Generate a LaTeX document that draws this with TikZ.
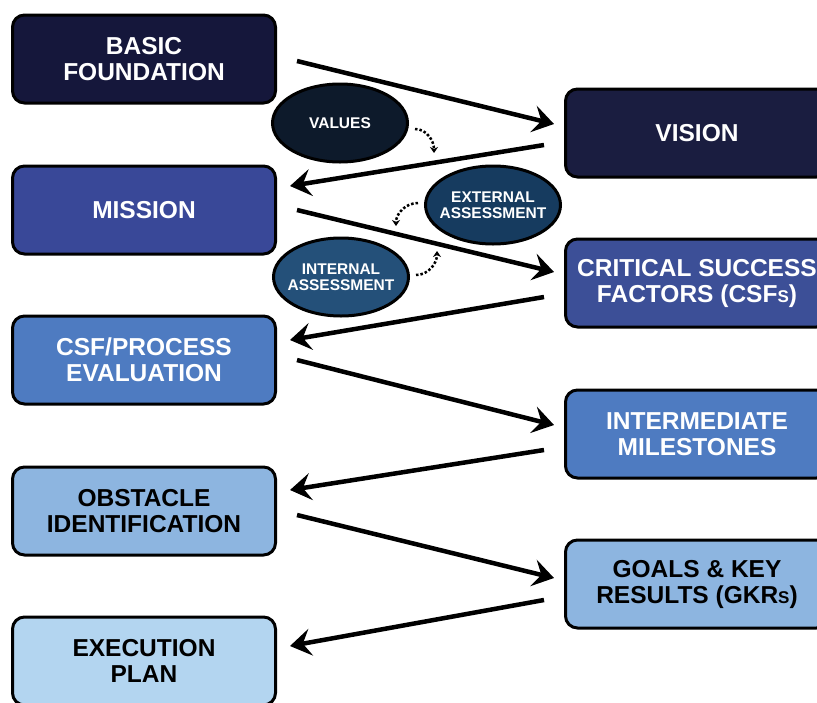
\documentclass[tikz,border=0pt]{standalone}
\usepackage{fontspec}
\setmainfont{Liberation Sans}
\usetikzlibrary{arrows.meta,shapes.geometric}

\definecolor{navyA}{HTML}{15173B}
\definecolor{navyB}{HTML}{1A1D40}
\definecolor{blueA}{HTML}{394898}
\definecolor{blueB}{HTML}{3C4F97}
\definecolor{blueC}{HTML}{4E7BC1}
\definecolor{blueD}{HTML}{8DB5E0}
\definecolor{blueE}{HTML}{B3D5F0}
\definecolor{valcol}{HTML}{0D1A2B}
\definecolor{extcol}{HTML}{163B5F}
\definecolor{intcol}{HTML}{245079}

\newcommand{\smallS}{{\fontsize{17}{26}\selectfont S}}

\begin{document}
\begin{tikzpicture}[x=1pt,y=-1pt,
    stage/.style={draw=black,line width=3pt,rounded corners=12pt,
      minimum width=263pt,minimum height=88pt,align=center,text=white,
      font=\fontsize{24.5}{26}\selectfont\bfseries},
    aspect/.style={ellipse,draw=black,line width=3pt,minimum width=135pt,
      minimum height=78pt,inner xsep=-8pt,align=center,text=white,
      font=\fontsize{15.5}{16.5}\selectfont\bfseries},
    flow/.style={-{Stealth[length=21pt,width=27pt,inset=8pt]},line width=4.5pt},
    hint/.style={-{Stealth[length=6pt,width=8pt]},line width=2.5pt,dotted}]
  \useasboundingbox (0,0) rectangle (817,702);
  \clip (0,0) rectangle (817,702);

  % left column
  \node[stage,fill=navyA] (basic) at (144,59) {BASIC\\FOUNDATION};
  \node[stage,fill=blueA] (mission) at (144,210) {MISSION};
  \node[stage,fill=blueC] (process) at (144,360) {CSF/PROCESS\\EVALUATION};
  \node[stage,fill=blueD,text=black] (obstacle) at (144,511) {OBSTACLE\\IDENTIFICATION};
  \node[stage,fill=blueE,text=black] (execution) at (144,661) {EXECUTION\\PLAN};

  % right column
  \node[stage,fill=navyB] (vision) at (697,133) {VISION};
  \node[stage,fill=blueB] (csf) at (697,283) {CRITICAL SUCCESS\\FACTORS (CSF\smallS)};
  \node[stage,fill=blueC] (milestones) at (697,434) {INTERMEDIATE\\MILESTONES};
  \node[stage,fill=blueD,text=black] (goals) at (697,584) {GOALS \& KEY\\RESULTS (GKR\smallS)};

  % zig-zag
  \draw[flow] ([xshift=20pt,yshift=-2pt]basic.east) -- ([xshift=-10pt,yshift=9pt]vision.west);
  \draw[flow] ([xshift=-20pt,yshift=-12pt]vision.west) -- ([xshift=13pt,yshift=24pt]mission.east);
  \draw[flow] ([xshift=20pt,yshift=0pt]mission.east) -- ([xshift=-10pt,yshift=11pt]csf.west);
  \draw[flow] ([xshift=-20pt,yshift=-14pt]csf.west) -- ([xshift=13pt,yshift=20pt]process.east);
  \draw[flow] ([xshift=20pt,yshift=0pt]process.east) -- ([xshift=-10pt,yshift=9pt]milestones.west);
  \draw[flow] ([xshift=-20pt,yshift=-16pt]milestones.west) -- ([xshift=13pt,yshift=21pt]obstacle.east);
  \draw[flow] ([xshift=20pt,yshift=-4pt]obstacle.east) -- ([xshift=-10pt,yshift=6pt]goals.west);
  \draw[flow] ([xshift=-20pt,yshift=-16pt]goals.west) -- ([xshift=13pt,yshift=15pt]execution.east);

  % influences
  \node[aspect,fill=valcol] (values) at (340,123) {VALUES};
  \node[aspect,fill=extcol] (external) at (493,205) {EXTERNAL\\ASSESSMENT};
  \node[aspect,fill=intcol] (internal) at (341,277) {INTERNAL\\ASSESSMENT};

  \coordinate (valtip) at (434,153);
  \coordinate (exttip) at (396,226);
  \coordinate (inttip) at (437,251);
  \draw[hint] ([xshift=6pt,yshift=-6pt]values.east) to[out=0,in=90] (valtip);
  \draw[hint] ([xshift=-6pt,yshift=2pt]external.west) to[out=180,in=90] (exttip);
  \draw[hint] ([xshift=6pt,yshift=2pt]internal.east) to[out=0,in=-90] (inttip);
\end{tikzpicture}
\end{document}
